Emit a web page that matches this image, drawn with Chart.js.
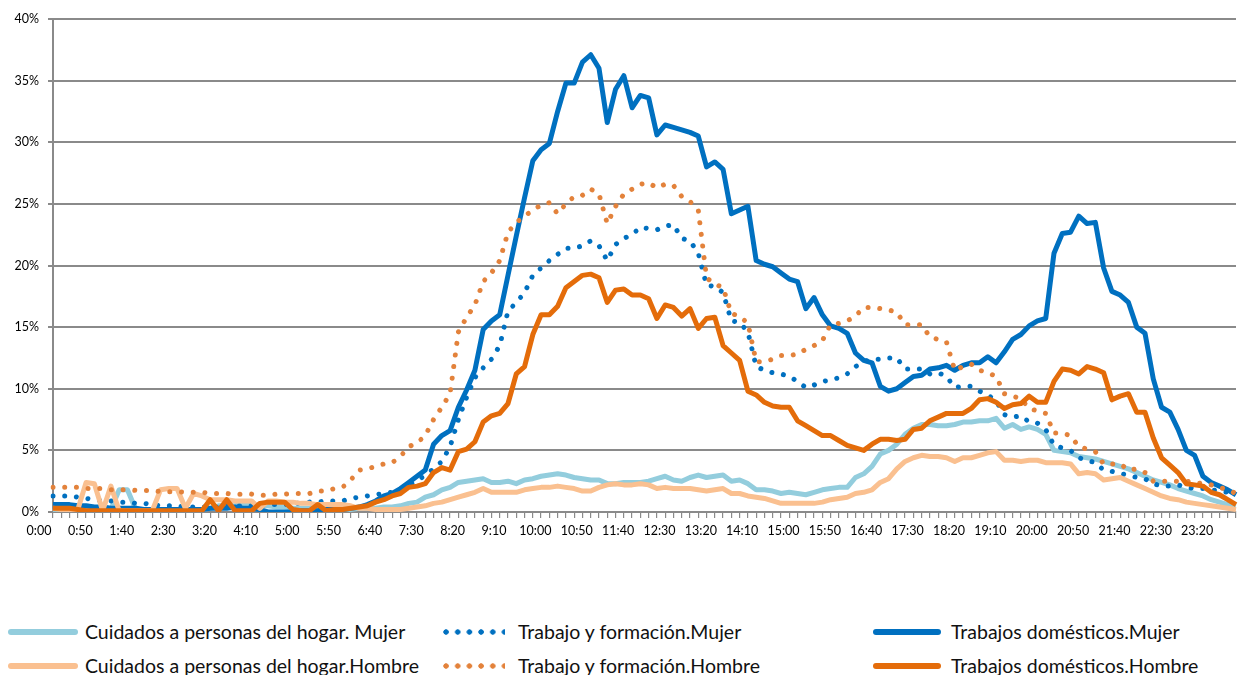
<!DOCTYPE html>
<html>
<head>
<meta charset="utf-8">
<script src="https://cdn.jsdelivr.net/npm/chart.js@4"></script>
<style>
  body { margin: 0; background: #fff; }
  #wrap { position: relative; width: 1241px; height: 675px; overflow: hidden; }
  #chart { position: absolute; left: 0; top: 0; }
  .sw { position: absolute; height: 6px; border-radius: 3px; transform: translateY(-50%); }
  .dots { height: 6px; border-radius: 0; background-repeat: repeat-x; background-size: 11.7px 6px; }
  .tx { position: absolute; font-family: Lato, "Noto Sans", sans-serif; font-size: 19.5px; color: #111; white-space: nowrap; transform: translateY(-50%); line-height: 22px; }
</style>
</head>
<body>
<div id="wrap">
  <canvas id="chart" width="1241" height="560"></canvas>
  <div id="legend"></div>
</div>
<script>
//------ Data (% of people, every 10 minutes) ------//
const times = [];
for (let h = 0; h < 24; h++) {
  for (let m = 0; m < 60; m += 10) times.push(h + ':' + (m === 0 ? '00' : m));
}

const cuidMujer = [
  0.2,0.2,0.2,0.2,0.2,0.2,0.2,0.2,1.8,1.8,
  0.2,0.2,0.2,0.2,0.2,0.2,0.2,0.2,0.2,0.3,
  0.5,0.5,0.5,0.6,0.6,0.5,0.5,0.4,0.4,0.3,
  0.3,0.3,0.3,0.2,0.2,0.2,0.2,0.3,0.3,0.3,
  0.4,0.4,0.5,0.7,0.8,1.2,1.4,1.8,2.0,2.4,
  2.5,2.6,2.7,2.4,2.4,2.5,2.3,2.6,2.7,2.9,
  3.0,3.1,3.0,2.8,2.7,2.6,2.6,2.3,2.3,2.4,
  2.4,2.4,2.5,2.7,2.9,2.6,2.5,2.8,3.0,2.8,
  2.9,3.0,2.5,2.6,2.3,1.8,1.8,1.7,1.5,1.6,
  1.5,1.4,1.6,1.8,1.9,2.0,2.0,2.8,3.1,3.7,
  4.7,5.0,5.5,6.3,6.8,7.1,7.1,7.0,7.0,7.1,
  7.3,7.3,7.4,7.4,7.6,6.8,7.1,6.7,6.9,6.7,
  6.3,5.0,4.9,4.8,4.5,4.4,4.3,4.1,3.9,3.7,
  3.5,3.2,2.9,2.6,2.4,2.2,1.9,1.7,1.5,1.3,
  1.0,0.8,0.6,0.5
];

const cuidHombre = [
  0.3,0.2,0.1,0.2,2.4,2.3,0.1,2.1,0.1,0.1,
  0.1,0.1,0.1,1.8,1.9,1.9,0.3,1.5,1.3,1.0,
  1.0,1.0,0.9,0.9,0.9,0.3,0.9,0.9,0.8,0.8,
  0.7,0.7,0.6,0.6,0.6,0.6,0.5,0.3,0.3,0.2,
  0.2,0.2,0.2,0.3,0.4,0.5,0.7,0.8,1.0,1.2,
  1.4,1.6,1.9,1.6,1.6,1.6,1.6,1.8,1.9,2.0,
  2.0,2.1,2.0,1.9,1.7,1.7,2.0,2.2,2.3,2.2,
  2.2,2.3,2.2,1.9,2.0,1.9,1.9,1.9,1.8,1.7,
  1.8,1.9,1.5,1.5,1.3,1.2,1.1,0.9,0.7,0.7,
  0.7,0.7,0.7,0.8,1.0,1.1,1.2,1.5,1.6,1.8,
  2.4,2.7,3.5,4.1,4.4,4.6,4.5,4.5,4.4,4.1,
  4.4,4.4,4.6,4.8,4.9,4.2,4.2,4.1,4.2,4.2,
  4.0,4.0,4.0,3.9,3.1,3.2,3.1,2.6,2.7,2.8,
  2.5,2.2,1.9,1.6,1.3,1.1,1.0,0.8,0.7,0.6,
  0.5,0.4,0.3,0.2
];

const trabMujer = [
  1.3,1.3,1.3,1.2,1.1,1.0,0.9,0.9,0.8,0.8,
  0.7,0.7,0.6,0.5,0.5,0.5,0.4,0.4,0.4,0.4,
  0.4,0.5,0.5,0.5,0.5,0.5,0.6,0.6,0.6,0.7,
  0.7,0.8,0.8,0.9,0.9,0.9,1.1,1.2,1.3,1.4,
  1.5,1.6,1.8,2.2,2.5,3.0,3.5,4.1,5.3,7.5,
  9.3,10.9,11.7,12.4,13.5,16.3,17.0,17.8,19.2,19.8,
  20.4,20.9,21.4,21.4,21.6,22.0,21.6,20.4,21.7,22.2,
  22.5,23.1,23.0,22.9,23.2,23.3,22.2,22.0,21.0,18.4,
  18.3,17.8,15.5,15.4,14.6,11.8,11.5,11.3,11.2,11.0,
  10.6,10.1,10.3,10.6,10.7,10.9,11.2,11.8,12.2,12.4,
  12.4,12.5,12.5,11.6,11.6,11.6,11.2,11.3,11.0,10.1,
  10.2,10.2,9.8,9.5,9.0,7.9,7.7,7.8,7.3,7.2,
  6.7,5.4,5.2,5.0,4.4,4.2,4.0,3.4,3.3,3.1,
  3.0,2.8,2.7,2.3,2.1,2.1,2.2,2.0,1.9,1.9,
  1.8,1.7,1.6,1.5
];

const trabHombre = [
  2.0,2.0,2.0,2.0,1.9,1.9,1.9,1.8,1.8,1.8,
  1.75,1.75,1.75,1.65,1.65,1.65,1.6,1.6,1.6,1.5,
  1.5,1.5,1.45,1.45,1.45,1.35,1.35,1.45,1.45,1.5,
  1.5,1.5,1.7,1.7,1.9,2.0,2.6,3.4,3.5,3.7,
  3.9,4.0,4.5,5.3,5.6,6.2,7.5,8.5,9.6,14.6,
  15.8,16.8,18.7,19.4,20.4,22.7,23.5,24.0,24.5,24.9,
  25.1,24.2,25.0,25.6,25.7,26.2,25.8,23.4,24.8,25.8,
  26.2,26.6,26.7,26.3,26.6,26.5,25.6,25.2,24.5,19.0,
  18.5,18.2,16.1,15.9,15.3,12.2,12.2,12.4,12.7,12.7,
  12.8,13.2,13.5,13.9,15.2,15.3,15.5,15.9,16.6,16.6,
  16.5,16.4,16.2,15.2,15.2,15.2,14.2,14.0,13.8,11.5,
  11.8,12.0,11.5,11.3,11.0,9.6,9.4,9.2,8.4,8.2,
  8.0,6.4,6.4,6.2,5.3,5.1,4.9,3.9,3.9,3.9,
  3.4,3.5,3.2,2.5,2.5,2.5,2.5,2.5,2.4,2.3,
  2.2,2.0,1.8,1.5
];

const domMujer = [
  0.6,0.6,0.6,0.5,0.5,0.4,0.4,0.3,0.3,0.3,
  0.3,0.2,0.2,0.2,0.2,0.2,0.2,0.2,0.2,0.3,
  0.3,0.3,0.4,0.3,0.3,0.2,0.0,0.0,0.0,0.0,
  0.1,0.1,0.1,0.2,0.2,0.2,0.3,0.4,0.6,0.9,
  1.3,1.5,1.9,2.4,2.9,3.4,5.5,6.2,6.6,8.5,
  9.9,11.5,14.8,15.5,16.0,19.2,22.4,25.5,28.5,29.4,
  29.9,32.5,34.8,34.8,36.5,37.1,36.0,31.6,34.3,35.4,
  32.8,33.8,33.6,30.6,31.4,31.2,31.0,30.8,30.5,28.0,
  28.4,27.8,24.2,24.5,24.8,20.4,20.1,19.9,19.4,18.9,
  18.7,16.5,17.4,16.0,15.1,14.9,14.5,12.9,12.3,12.1,
  10.2,9.8,10.0,10.5,11.0,11.1,11.6,11.7,11.9,11.5,
  11.9,12.1,12.1,12.6,12.1,13.0,14.0,14.4,15.1,15.5,
  15.7,21.0,22.6,22.7,24.0,23.4,23.5,19.8,17.9,17.6,
  17.0,15.0,14.5,10.8,8.5,8.1,6.7,5.0,4.6,2.9,
  2.4,2.1,1.8,1.4
];

const domHombre = [
  0.3,0.3,0.3,0.2,0.1,0.1,0.1,0.1,0.1,0.1,
  0.1,0.1,0.1,0.1,0.1,0.1,0.1,0.1,0.1,1.0,
  0.1,1.0,0.1,0.1,0.1,0.7,0.8,0.8,0.8,0.2,
  0.1,0.1,0.6,0.1,0.2,0.2,0.3,0.4,0.5,0.8,
  1.0,1.3,1.5,2.0,2.1,2.3,3.2,3.6,3.4,4.9,
  5.1,5.7,7.3,7.8,8.0,8.8,11.2,11.8,14.4,16.0,
  16.0,16.7,18.2,18.7,19.2,19.3,19.0,17.0,18.0,18.1,
  17.6,17.6,17.3,15.7,16.8,16.6,15.9,16.5,14.9,15.7,
  15.8,13.5,12.9,12.3,9.8,9.5,8.9,8.6,8.5,8.5,
  7.4,7.0,6.6,6.2,6.2,5.8,5.4,5.2,5.0,5.5,
  5.9,5.9,5.8,5.9,6.7,6.8,7.4,7.7,8.0,8.0,
  8.0,8.4,9.1,9.2,8.9,8.4,8.7,8.8,9.4,8.9,
  8.9,10.6,11.6,11.5,11.2,11.8,11.6,11.3,9.1,9.4,
  9.6,8.1,8.1,6.0,4.4,3.8,3.2,2.3,2.2,2.1,
  1.6,1.4,1.0,0.6
];

const yTicks = [0, 5, 10, 15, 20, 25, 30, 35, 40];

//------ Series look (legend order: row by row) ------//
const series = [
  { label: 'Cuidados a personas del hogar. Mujer', data: cuidMujer, color: '#93CDDD', dotted: false },
  { label: 'Trabajo y formación.Mujer', data: trabMujer, color: '#0070C0', dotted: true },
  { label: 'Trabajos domésticos.Mujer', data: domMujer, color: '#0070C0', dotted: false },
  { label: 'Cuidados a personas del hogar.Hombre', data: cuidHombre, color: '#FAC090', dotted: false },
  { label: 'Trabajo y formación.Hombre', data: trabHombre, color: '#E3823B', dotted: true },
  { label: 'Trabajos domésticos.Hombre', data: domHombre, color: '#E46C0A', dotted: false }
];

const gridColor = '#8a8a8a';
const tickFont = { family: 'Lato, "Noto Sans", sans-serif', size: 12.5 };

const chart = new Chart(document.getElementById('chart'), {
  type: 'line',
  data: {
    labels: times,
    datasets: series.map((s, i) => ({
      label: s.label,
      data: s.data,
      borderColor: s.color,
      backgroundColor: s.color,
      borderWidth: s.dotted ? 5 : 5,
      borderDash: s.dotted ? [0.01, 11.7] : [],
      borderCapStyle: s.dotted ? 'round' : 'butt',
      borderJoinStyle: 'round',
      pointRadius: 0,
      tension: 0,
      fill: false,
      order: series.length - i // later series on top, as in the original
    }))
  },
  options: {
    responsive: false,
    animation: false,
    devicePixelRatio: 1,
    layout: { padding: { top: 19, right: 1, left: 0, bottom: 0 } },
    plugins: {
      legend: { display: false },
      tooltip: { enabled: false }
    },
    scales: {
      x: {
        grid: { drawOnChartArea: false, color: gridColor, tickLength: 6, lineWidth: 1.2 },
        border: { color: gridColor, width: 2 },
        ticks: {
          autoSkip: false,
          maxRotation: 0,
          minRotation: 0,
          padding: 5,
          labelOffset: -14,
          color: '#000',
          font: tickFont,
          callback: (v, i) => (i % 5 === 0 ? times[i] : '')
        },
        afterFit: (s) => { s.height = 48; }
      },
      y: {
        min: 0,
        max: 40,
        afterBuildTicks: (s) => { s.ticks = yTicks.map(v => ({ value: v })); },
        grid: { color: gridColor, lineWidth: 2, tickLength: 5 },
        border: { color: gridColor, width: 2 },
        ticks: { padding: 9, color: '#000', font: tickFont, callback: v => v + '%' },
        afterFit: (s) => { s.width = 53; }
      }
    }
  }
});

//------ Legend (3 columns x 2 rows, like the original) ------//
const legCols = [
  { sw: 8, w: 70, tx: 85 },
  { sw: 443, w: 62, tx: 518 },
  { sw: 873, w: 68, tx: 951 }
];
const legRows = [632, 666];
const legend = document.getElementById('legend');

series.forEach((s, i) => {
  const col = legCols[i % 3];
  const y = legRows[Math.floor(i / 3)];
  const sw = document.createElement('div');
  sw.className = s.dotted ? 'sw dots' : 'sw';
  sw.style.left = col.sw + 'px';
  sw.style.top = y + 'px';
  sw.style.width = col.w + 'px';
  if (s.dotted) {
    sw.style.backgroundImage = `radial-gradient(circle at 3px 3px, ${s.color} 2.4px, transparent 3px)`;
  } else {
    sw.style.background = s.color;
  }
  legend.appendChild(sw);

  const tx = document.createElement('div');
  tx.className = 'tx';
  tx.style.left = col.tx + 'px';
  tx.style.top = y + 'px';
  tx.textContent = s.label;
  legend.appendChild(tx);
});
</script>
</body>
</html>
